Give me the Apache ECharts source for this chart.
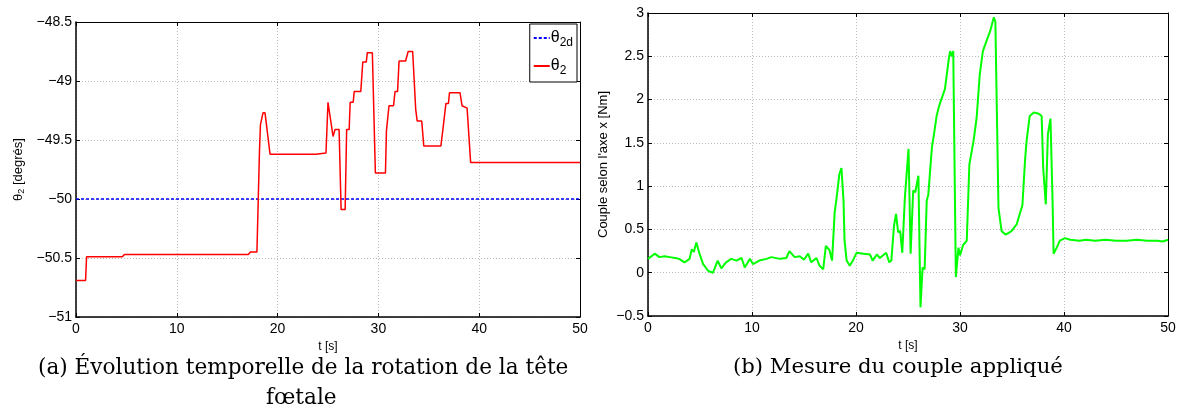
<!DOCTYPE html>
<html>
<head>
<meta charset="utf-8">
<script src="https://cdn.jsdelivr.net/npm/echarts@6/dist/echarts.min.js"></script>
<style>
  html, body { margin: 0; padding: 0; background: #fff; }
  #chart { width: 1180px; height: 417px; }
</style>
</head>
<body>
<div id="chart"></div>
<script>
// (a) rotation of the head, theta2 [deg]
const tTheta = [0, 0.95, 1.05, 4.6, 4.8, 17.1, 17.3, 17.95, 18.2, 18.3, 18.45, 18.55, 18.75, 19.25,
  23.8, 23.9, 24.8, 25.0, 25.5, 25.7, 26.1, 26.3, 26.7, 26.85, 27.1, 27.2, 27.5, 27.6, 28.25,
  28.45, 28.8, 28.9, 29.4, 29.7, 30.7, 30.8, 30.95, 31.05, 31.5, 31.65, 31.9, 32.05, 32.7,
  32.95, 33.4, 33.7, 33.85, 34.3, 34.5, 36.2, 36.4, 36.55, 36.7, 36.95, 37.05, 38.1, 38.3,
  38.8, 39.15, 50];
const theta2 = [-50.69, -50.69, -50.49, -50.49, -50.47, -50.47, -50.45, -50.45, -49.6, -49.37,
  -49.36, -49.27, -49.27, -49.62, -49.62, -49.61, -49.61, -49.18, -49.47, -49.41, -49.41,
  -50.09, -50.09, -49.41, -49.41, -49.18, -49.18, -49.09, -49.09, -48.84, -48.84, -48.76,
  -48.76, -49.78, -49.78, -49.42, -49.42, -49.21, -49.21, -49.09, -49.09, -48.83, -48.83,
  -48.75, -48.75, -49.24, -49.34, -49.34, -49.55, -49.55, -49.41, -49.41, -49.19, -49.19,
  -49.10, -49.10, -49.21, -49.23, -49.69, -49.69];
const tTheta2d = [0, 50];
const theta2d = [-50, -50];

// (b) applied torque [Nm]
const tCouple = [0, 0.65, 1.1, 1.6, 2.1, 2.6, 3.0, 3.5, 4.0, 4.2, 4.4, 4.65, 4.95, 5.3, 5.8,
  6.25, 6.7, 7.05, 7.5, 8.0, 8.5, 9.0, 9.3, 9.8, 10.1, 10.7, 11.4, 11.85, 12.7, 13.3, 13.6,
  14.1, 14.6, 15.0, 15.4, 15.7, 16.2, 16.5, 16.85, 17.1, 17.45, 17.7, 17.95, 18.1, 18.4,
  18.6, 18.8, 18.9, 19.1, 19.4, 19.7, 20.05, 20.7, 21.35, 21.6, 22.0, 22.3, 22.9, 23.2,
  23.4, 23.65, 23.85, 24.05, 24.25, 24.45, 24.7, 25.05, 25.25, 25.5, 25.7, 26.0, 26.2,
  26.4, 26.6, 26.8, 26.95, 27.3, 27.5, 27.75, 28.0, 28.2, 28.55, 28.9, 29.05, 29.2, 29.35,
  29.6, 29.85, 30.0, 30.3, 30.65, 30.9, 31.3, 31.6, 31.9, 32.2, 32.5, 32.9, 33.25, 33.4,
  33.7, 34.0, 34.4, 34.95, 35.45, 35.8, 36.0, 36.25, 36.4, 36.7, 37.1, 37.5, 37.85, 38.0,
  38.25, 38.45, 38.7, 38.9, 39.0, 39.3, 39.6, 40.1, 40.6, 41.5, 42.1, 43.0, 44.0, 45.0,
  46.0, 47.0, 48.0, 49.0, 49.5, 50];
const couple = [0.16, 0.22, 0.18, 0.19, 0.18, 0.17, 0.16, 0.12, 0.16, 0.27, 0.24, 0.35, 0.22,
  0.10, 0.02, 0.0, 0.14, 0.05, 0.12, 0.16, 0.14, 0.17, 0.06, 0.16, 0.10, 0.14, 0.16, 0.18,
  0.16, 0.17, 0.25, 0.18, 0.19, 0.15, 0.22, 0.12, 0.17, 0.08, 0.04, 0.31, 0.26, 0.14, 0.70,
  0.83, 1.14, 1.21, 0.83, 0.37, 0.14, 0.08, 0.14, 0.23, 0.22, 0.21, 0.14, 0.21, 0.17, 0.23,
  0.12, 0.14, 0.54, 0.68, 0.47, 0.48, 0.23, 0.87, 1.43, 0.22, 0.95, 0.93, 1.12, -0.40, 0.06,
  0.04, 0.83, 0.90, 1.45, 1.60, 1.81, 1.93, 2.00, 2.12, 2.45, 2.56, 2.50, 2.56, -0.05, 0.29,
  0.20, 0.32, 0.37, 1.25, 1.52, 1.79, 2.29, 2.56, 2.66, 2.79, 2.95, 2.90, 0.75, 0.48, 0.44,
  0.48, 0.56, 0.70, 0.78, 1.29, 1.52, 1.81, 1.85, 1.84, 1.81, 1.21, 0.79, 1.60, 1.78, 0.83,
  0.22, 0.29, 0.37, 0.40, 0.38, 0.37, 0.38, 0.37, 0.38, 0.37, 0.37, 0.38, 0.37, 0.37, 0.36,
  0.38];

const xTicks = [0, 10, 20, 30, 40, 50];

const sans = "Liberation Sans, Arial, sans-serif";
const serif = "DejaVu Serif, Liberation Serif, serif";
const minus = v => String(v).replace('-', '\u2212');
const pairs = (xs, ys) => xs.map((x, i) => [x, ys[i]]);

const chart = echarts.init(document.getElementById('chart'));

const grids = [
  { left: 76, top: 22, width: 504, height: 295 },
  { left: 648, top: 13, width: 520, height: 303 }
];

function xAx(gi, show) {
  return {
    type: 'value', gridIndex: gi, min: xTicks[0], max: xTicks[xTicks.length - 1], interval: 10,
    position: show ? 'bottom' : 'top',
    name: show ? 't [s]' : '', nameLocation: 'middle', nameGap: 22,
    nameTextStyle: { fontFamily: sans, fontSize: 12, color: '#000' },
    axisLine: { show: true, onZero: false, lineStyle: { color: '#000', width: show ? 1.5 : 1 } },
    axisTick: { show: true, inside: true, length: 4, lineStyle: { color: '#000' } },
    axisLabel: { show: show, fontFamily: sans, fontSize: 14, color: '#000', margin: 5 },
    splitLine: { show: show, lineStyle: { color: '#bbb', type: [1, 2] } }
  };
}

function yAx(gi, min, max, name, rich, show) {
  return {
    type: 'value', gridIndex: gi, min: min, max: max, interval: 0.5,
    position: show ? 'left' : 'right',
    name: show ? name : '', nameLocation: 'middle', nameGap: gi === 0 ? 50 : 38,
    nameTextStyle: { fontFamily: sans, fontSize: 13, color: '#000', rich: rich },
    axisLine: { show: true, onZero: false, lineStyle: { color: '#000', width: show ? 1.5 : 1 } },
    axisTick: { show: true, inside: true, length: 4, lineStyle: { color: '#000' } },
    axisLabel: { show: show, fontFamily: sans, fontSize: 14, color: '#000', margin: 4, formatter: minus },
    splitLine: { show: show, lineStyle: { color: '#bbb', type: [1, 2] } }
  };
}

const thetaRich = {
  t: { fontFamily: sans, fontSize: 13, color: '#000' },
  s: { fontFamily: sans, fontSize: 9, color: '#000', verticalAlign: 'bottom', padding: [6, 0, 0, 0] }
};

chart.setOption({
  animation: false,
  grid: grids,
  xAxis: [xAx(0, true), xAx(0, false), xAx(1, true), xAx(1, false)],
  yAxis: [
    yAx(0, -51, -48.5, '{t|θ}{s|2}{t| [degrés]}', thetaRich, true),
    yAx(0, -51, -48.5, '', thetaRich, false),
    yAx(1, -0.5, 3, "Couple selon l'axe x [Nm]", thetaRich, true),
    yAx(1, -0.5, 3, '', thetaRich, false)
  ],
  legend: {
    data: ['theta2d', 'theta2'],
    right: 603, top: 24, orient: 'vertical',
    backgroundColor: '#fff', borderColor: '#000', borderWidth: 1,
    padding: [6, 4, 5, 3], itemGap: 9, itemWidth: 16, itemHeight: 10,
    itemStyle: { color: 'transparent', borderWidth: 0 },
    formatter: n => n === 'theta2d' ? '{t|θ}{s|2d}' : '{t|θ}{s|2}',
    textStyle: {
      color: '#000', padding: [0, 0, 0, -4],
      rich: {
        t: { fontFamily: sans, fontSize: 16, color: '#000' },
        s: { fontFamily: sans, fontSize: 12, color: '#000', verticalAlign: 'bottom', padding: [10, 0, 0, 0] }
      }
    }
  },
  series: [
    {
      name: 'theta2d', type: 'line', xAxisIndex: 0, yAxisIndex: 0, symbol: 'none',
      data: pairs(tTheta2d, theta2d),
      lineStyle: { color: '#0000ff', width: 1.5, type: [3, 2] },
      itemStyle: { color: '#0000ff' }
    },
    {
      name: 'theta2', type: 'line', xAxisIndex: 0, yAxisIndex: 0, symbol: 'none',
      data: pairs(tTheta, theta2),
      lineStyle: { color: '#ff0000', width: 1.5 },
      itemStyle: { color: '#ff0000' }
    },
    {
      name: 'couple', type: 'line', xAxisIndex: 2, yAxisIndex: 2, symbol: 'none',
      data: pairs(tCouple, couple),
      lineStyle: { color: '#00ff00', width: 2 },
      itemStyle: { color: '#00ff00' }
    }
  ],
  graphic: [
    { type: 'text', left: 38, top: 357,
      style: { text: '(a) Évolution temporelle de la rotation de la tête', font: '21.6px ' + serif, fill: '#000' } },
    { type: 'text', left: 266, top: 387,
      style: { text: 'fœtale', font: '21.6px ' + serif, fill: '#000' } },
    { type: 'text', left: 733, top: 357,
      style: { text: '(b) Mesure du couple appliqué', font: '21.2px ' + serif, fill: '#000' } }
  ]
});
</script>
</body>
</html>
